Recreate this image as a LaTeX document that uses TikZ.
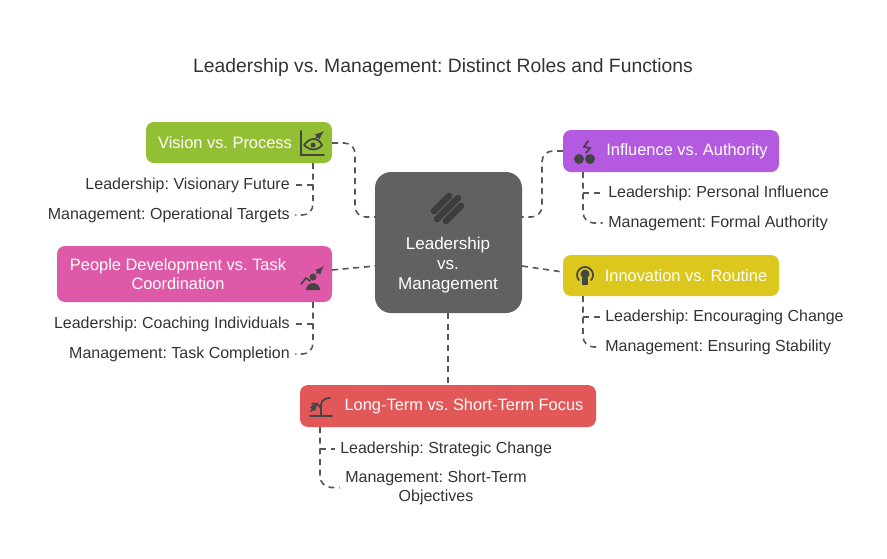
\documentclass[tikz,border=0pt]{standalone}
\usepackage{fontspec}
\setmainfont{Liberation Sans}
\frenchspacing
\definecolor{cgrey}{HTML}{616161}
\definecolor{cgreen}{HTML}{93BF35}
\definecolor{cpurple}{HTML}{B35AE0}
\definecolor{cpink}{HTML}{DE5AA8}
\definecolor{cyellow}{HTML}{DCC81C}
\definecolor{cred}{HTML}{E25757}
\definecolor{ctext}{HTML}{333333}
\definecolor{cicon}{HTML}{444444}
\begin{document}
\begin{tikzpicture}[x=0.75pt,y=-0.75pt,
  lbl/.style={font=\fontsize{12}{14}\selectfont,text=ctext,inner sep=0pt},
  btxt/.style={font=\fontsize{12.3}{14.5}\selectfont,text=white,inner sep=0pt,align=center},
  conn/.style={draw=cicon!90,line width=1.2pt,dash pattern=on 4.5pt off 3.5pt,rounded corners=8pt},
  sub/.style={conn,shorten >=4pt},
  ic/.style={draw=cicon,line width=1.3pt,line cap=round}]
\useasboundingbox (0,0) rectangle (887,558);
\node[font=\fontsize{14.5}{17}\selectfont,text=ctext] (title) at (443,67) {Leadership vs. Management: Distinct Roles and Functions};

% boxes
\fill[cgrey,rounded corners=12pt] (375,172) rectangle (522,313);
\node (center) at (448.5,242.5) {};
\coordinate (cL1) at (375,217); \coordinate (cR1) at (522,217);
\coordinate (cL2) at (375,266); \coordinate (cR2) at (522,266);
\coordinate (cB) at (448,313);
\node[btxt,font=\fontsize{12.8}{15}\selectfont] (ctxt) at (448,265) {Leadership\\vs.\\Management};
\draw[line width=5pt,line cap=round,draw=cicon!90!black] (434,211) -- (449,196);
\draw[line width=5pt,line cap=round,draw=cicon!90!black] (437,219) -- (458,198);
\draw[line width=5pt,line cap=round,draw=cicon!90!black] (446,221) -- (461,206);

\fill[cgreen,rounded corners=6pt] (146,122) rectangle (332,163);
\node[btxt] (v) at (225,143) {Vision vs. Process};
\coordinate (vR) at (332,143); \coordinate (vB) at (313,163);
\fill[cpurple,rounded corners=6pt] (563,130) rectangle (779,172);
\node[btxt] (i) at (687,151) {Influence vs. Authority};
\coordinate (iL) at (563,151); \coordinate (iB) at (583,172);
\fill[cpink,rounded corners=6pt] (57,246) rectangle (332,302);
\node[btxt] (p) at (178,274) {People Development vs. Task\\Coordination};
\coordinate (pR) at (332,270); \coordinate (pB) at (313,302);
\fill[cyellow,rounded corners=6pt] (563,255) rectangle (779,296);
\node[btxt] (n) at (686,275.5) {Innovation vs. Routine};
\coordinate (nL) at (563,272); \coordinate (nB) at (583,296);
\fill[cred,rounded corners=6pt] (300,385) rectangle (596,427);
\node[btxt] (l) at (464,406) {Long-Term vs. Short-Term Focus};
\coordinate (lT) at (448,385); \coordinate (lB) at (320,427);

% icons (approximate)
\draw[ic] (301,131) -- (301,155) -- (324,155);
\draw[ic] (304,145) .. controls (310,137) and (318,137) .. (322,145) .. controls (318,151) and (310,151) .. (304,145);
\fill[cicon] (313,145) circle (2.5);
\draw[ic,-latex] (316,138) -- (324,131);
\fill[cicon] (579,159) circle (5); \fill[cicon] (590,159) circle (5);
\draw[ic] (588,141) -- (584,147) -- (590,148) -- (586,153);
\draw[ic] (301,284) -- (306,278) -- (310,281);
\fill[cicon] (313,277) circle (3.5);
\fill[cicon] (306,290) arc (180:360:7) -- cycle;
\draw[ic,-latex] (317,273) -- (324,266);
\draw[ic] (578.9,280.1) arc (140:400:8);
\fill[cicon] (585,274) circle (4.5);
\fill[cicon] (582,278) rectangle (588,285);
\draw[ic] (310,416) -- (332,416);
\draw[ic] (321,416) -- (321,405) .. controls (321,400) and (326,398) .. (330,398);
\draw[ic] (321,408) .. controls (318,403) and (314,403) .. (312,404);
\draw[ic,-latex] (311,411) -- (318,402);

% connectors to center
\draw[conn] (vR) -- (355,143) -- (355,217) -- (cL1);
\draw[conn] (iL) -- (542,151) -- (542,217) -- (cR1);
\draw[conn,rounded corners=0pt] (pR) -- (cL2);
\draw[conn,rounded corners=0pt] (cR2) -- (nL);
\draw[conn] (cB) -- (lT);

% sub labels
\node[lbl,anchor=east] (v1) at (290,185) {Leadership: Visionary Future};
\node[lbl,anchor=east] (v2) at (290,215) {Management: Operational Targets};
\draw[sub] (vB) -- (313,215) -- (v2.east);
\draw[sub] (313,185) -- (v1.east);
\node[lbl,anchor=east] (p1) at (290,324) {Leadership: Coaching Individuals};
\node[lbl,anchor=east] (p2) at (290,354) {Management: Task Completion};
\draw[sub] (pB) -- (313,354) -- (p2.east);
\draw[sub] (313,324) -- (p1.east);
\node[lbl,anchor=west] (i1) at (608,193) {Leadership: Personal Influence};
\node[lbl,anchor=west] (i2) at (608,223) {Management: Formal Authority};
\draw[sub] (iB) -- (583,223) -- (i2.west);
\draw[sub] (583,193) -- (i1.west);
\node[lbl,anchor=west] (n1) at (605,317) {Leadership: Encouraging Change};
\node[lbl,anchor=west] (n2) at (605,347) {Management: Ensuring Stability};
\draw[sub] (nB) -- (583,347) -- (n2.west);
\draw[sub] (583,317) -- (n1.west);
\node[lbl,anchor=west] (l1) at (340,449) {Leadership: Strategic Change};
\node[lbl,align=center] (l2) at (436,488) {Management: Short-Term\\Objectives};
\draw[sub] (lB) -- (320,487) -- (l2.west);
\draw[sub] (320,449) -- (l1.west);
\end{tikzpicture}
\end{document}
